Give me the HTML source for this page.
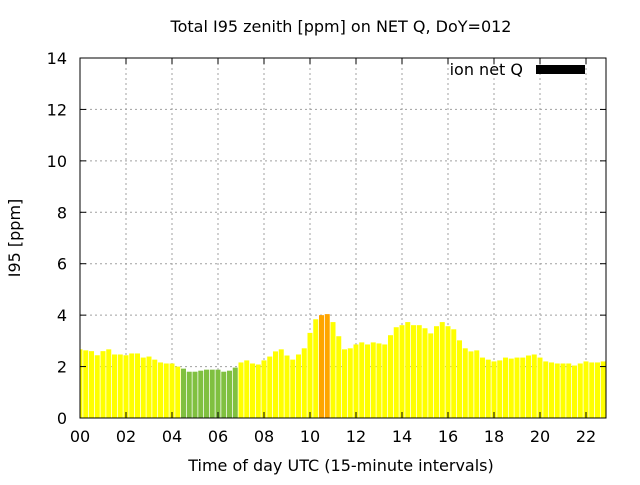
<!DOCTYPE html>
<html><head><meta charset="utf-8"><style>
body{margin:0;background:#fff}
svg text{font-family:"DejaVu Sans","Liberation Sans",sans-serif;fill:#000}
</style></head><body>
<svg id="chart" width="640" height="480" xmlns="http://www.w3.org/2000/svg">
<text x="341" y="32" font-size="16" text-anchor="middle">Total I95 zenith [ppm] on NET Q, DoY=012</text>
<text x="341" y="471" font-size="16" text-anchor="middle">Time of day UTC (15-minute intervals)</text>
<text transform="translate(20,238) rotate(-90)" font-size="16" text-anchor="middle">I95 [ppm]</text>
<g id="grid"></g><g id="bars"></g><g id="axes"></g>
<text x="523" y="75" font-size="16" text-anchor="end">ion net Q</text>
<rect x="536" y="65" width="49" height="9" fill="#000"/>
</svg>
<script>
const values=[2.67,2.63,2.6,2.44,2.6,2.67,2.47,2.47,2.44,2.51,2.51,2.35,2.39,2.27,2.16,2.12,2.12,2.0,1.92,1.8,1.8,1.84,1.88,1.88,1.88,1.8,1.84,1.96,2.16,2.24,2.12,2.08,2.24,2.39,2.59,2.67,2.43,2.27,2.47,2.71,3.31,3.84,4.0,4.04,3.73,3.18,2.67,2.71,2.86,2.94,2.86,2.94,2.9,2.86,3.22,3.53,3.61,3.73,3.61,3.61,3.49,3.29,3.57,3.73,3.57,3.45,3.02,2.71,2.59,2.63,2.35,2.27,2.2,2.24,2.35,2.31,2.35,2.35,2.43,2.47,2.35,2.2,2.16,2.12,2.12,2.12,2.04,2.12,2.2,2.16,2.16,2.2];
const xTicks=["00","02","04","06","08","10","12","14","16","18","20","22"];
const yTicks=[0,2,4,6,8,10,12,14];
const L=80,R=606,T=58,B=418,pxH=23;
const NS="http://www.w3.org/2000/svg";
const X=h=>L+h*pxH, Y=v=>B-(B-T)*v/14;
function mk(tag,a,p){const e=document.createElementNS(NS,tag);for(const k in a)e.setAttribute(k,a[k]);p.appendChild(e);return e;}
const g=document.getElementById('grid'),bg=document.getElementById('bars'),ax=document.getElementById('axes');
yTicks.forEach((v,i)=>{
 if(v>0&&v<14){const l=mk('line',{x1:L,x2:R,y1:Y(v),y2:Y(v),stroke:'#a0a0a0','stroke-dasharray':'2,3'},g);
 
 }
 const t=mk('text',{x:L-13,y:Y(v)+6,'font-size':16,'text-anchor':'end'},ax);t.textContent=v;
 
 
 mk('line',{x1:L,x2:L+6,y1:Y(v),y2:Y(v),stroke:'#000'},ax);
 mk('line',{x1:R,x2:R-6,y1:Y(v),y2:Y(v),stroke:'#000'},ax);
});
xTicks.forEach((s,i)=>{
 const x=X(i*2);
 if(i>0){const l=mk('line',{x1:x,x2:x,y1:T,y2:B,stroke:'#a0a0a0','stroke-dasharray':'2,3'},g);
 
 }
 const t=mk('text',{x:x,y:B+24,'font-size':16,'text-anchor':'middle'},ax);t.textContent=s;
 
 
 mk('line',{x1:x,x2:x,y1:B,y2:B-6,stroke:'#000'},ax);
 mk('line',{x1:x,x2:x,y1:T,y2:T+6,stroke:'#000'},ax);
});
values.forEach((v,i)=>{
 const c=X(i*0.25);let x0=Math.max(L,c-2.5),x1=Math.min(R,c+2.5);
 const col=v<2?'#80c040':(v>=4?'#ffa500':'#ffff00');
 const r=mk('rect',{x:x0,y:Y(v),width:x1-x0,height:B-Y(v),fill:col},bg);
 
 
});
const f=mk('rect',{x:L,y:T,width:R-L,height:B-T,fill:'none',stroke:'#000','stroke-width':1},ax);


</script>
</body></html>
